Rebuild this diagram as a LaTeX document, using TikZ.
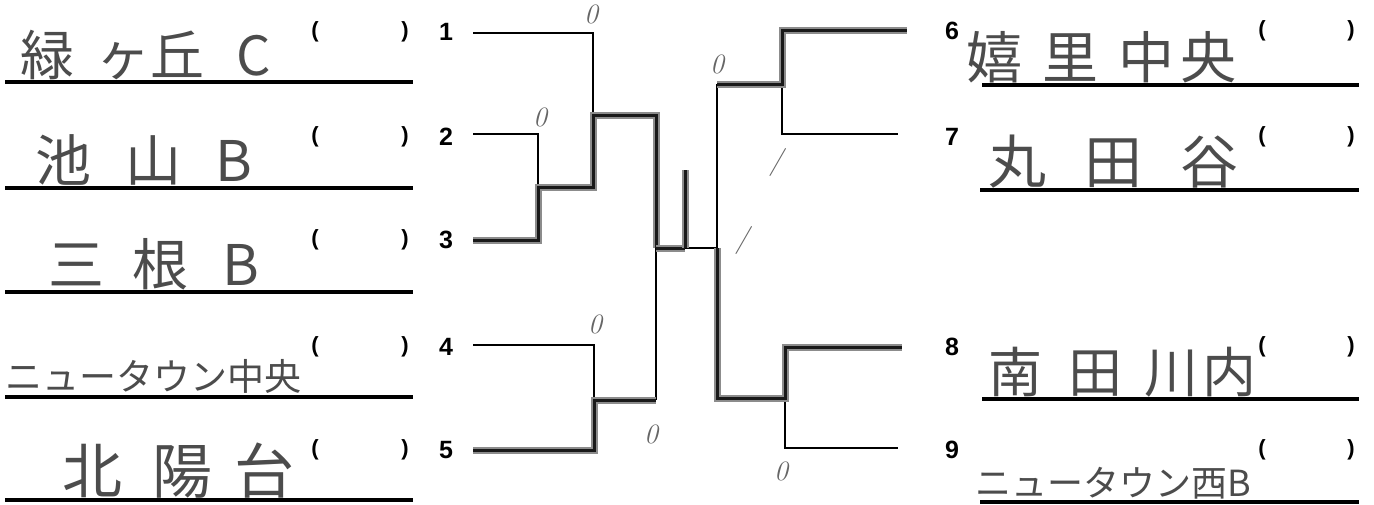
\documentclass[tikz,border=0pt]{standalone}
\usepackage{fontspec}
\setsansfont{Liberation Sans}
\newfontfamily\cjk{Noto Sans CJK JP}
\begin{document}
\begin{tikzpicture}[x=1pt,y=-1pt,
  bl/.style={line width=1.8pt,black},
  win/.style={line width=3pt,black!90,line join=miter,preaction={draw,line width=7pt,black!45}},
  uline/.style={line width=4pt,black},
  num/.style={font=\sffamily\bfseries\fontsize{25}{25}\selectfont,inner sep=0},
  par/.style={font=\sffamily\bfseries\fontsize{22}{22}\selectfont,inner sep=0},
  nm/.style={text=black!70,anchor=base west,inner sep=0},
  sc/.style={font=\itshape\fontsize{28}{28}\selectfont,text=black!60,inner sep=0}]
\useasboundingbox (0,0) rectangle (1374,504);
% ---------- left names ----------
\draw[uline] (5,82) -- (413,82);
\draw[uline] (5,188) -- (413,188);
\draw[uline] (5,292) -- (413,292);
\draw[uline] (5,397) -- (413,397);
\draw[uline] (5,500) -- (413,500);
\node[nm,font=\cjk\fontsize{54}{54}\selectfont] (n1) at (20,75) {緑\hspace{22pt}ヶ丘\hspace{32pt}C};
\node[nm,font=\cjk\fontsize{56}{56}\selectfont] (n2) at (35,181) {池\hspace{34pt}山\hspace{34pt}B};
\node[nm,font=\cjk\fontsize{56}{56}\selectfont] (n3) at (48,285) {三\hspace{28pt}根\hspace{34pt}B};
\node[nm,font=\cjk\fontsize{37}{37}\selectfont] (n4) at (5,390) {ニュータウン中央};
\node[nm,font=\cjk\fontsize{60}{60}\selectfont] (n5) at (62,493) {北\hspace{30pt}陽\hspace{22pt}台};
\foreach \i/\y in {1/32,2/137,3/240,4/347,5/450}{
  \node[par] (po\i) at (315,\y) {(};
  \node[par] (pc\i) at (405,\y) {)};
  \node[num] (k\i) at (446,\y) {\i};
}
% ---------- right names ----------
\draw[uline] (982,85) -- (1359,85);
\draw[uline] (980,190) -- (1359,190);
\draw[uline] (982,399) -- (1359,399);
\draw[uline] (980,502) -- (1359,502);
\node[nm,font=\cjk\fontsize{56}{56}\selectfont] (n6) at (966,78) {嬉\hspace{20pt}里\hspace{20pt}中\hspace{6pt}央};
\node[nm,font=\cjk\fontsize{58}{58}\selectfont] (n7) at (988,183) {丸\hspace{38pt}田\hspace{38pt}谷};
\node[nm,font=\cjk\fontsize{54}{54}\selectfont] (n8) at (988,392) {南\hspace{26pt}田\hspace{22pt}川\hspace{4pt}内};
\node[nm,font=\cjk\fontsize{36}{36}\selectfont] (n9) at (975,496) {ニュータウン西B};
\foreach \i/\y in {6/31,7/137,8/347,9/450}{
  \node[par] (po\i) at (1262,\y) {(};
  \node[par] (pc\i) at (1351,\y) {)};
  \node[num] (k\i) at (952,\y) {\i};
}
% ---------- bracket coordinates ----------
\coordinate (L1) at (473,33);  \coordinate (L1e) at (593,33);
\coordinate (L2) at (473,134); \coordinate (L2e) at (538,134);
\coordinate (L3) at (473,240); \coordinate (L3e) at (538,240);
\coordinate (M23) at (538,187); \coordinate (M23e) at (593,187);
\coordinate (M123) at (593,115); \coordinate (M123e) at (656,115);
\coordinate (L4) at (473,345); \coordinate (L4e) at (594,345);
\coordinate (L5) at (473,450); \coordinate (L5e) at (594,450);
\coordinate (M45) at (594,400); \coordinate (M45e) at (656,400);
\coordinate (C) at (656,248); \coordinate (Ce) at (685,248);
\coordinate (Ctop) at (685,170);
\coordinate (Rc) at (717,248);
\coordinate (R6) at (907,30);  \coordinate (R6s) at (782,30);
\coordinate (R7) at (898,134); \coordinate (R7s) at (782,134);
\coordinate (M67) at (782,84); \coordinate (M67s) at (717,84);
\coordinate (R8) at (902,347); \coordinate (R8s) at (785,347);
\coordinate (R9) at (898,448); \coordinate (R9s) at (785,448);
\coordinate (M89) at (785,398); \coordinate (M89s) at (717,398);
% ---------- thin lines ----------
\draw[bl] (L1) -- (L1e) -- (M23e);
\draw[bl] (L2) -- (L2e) -- (M23);
\draw[bl] (L4) -- (L4e) -- (M45);
\draw[bl] (M123e) -- (M45e);
\draw[bl] (Ce) -- (Rc);
\draw[bl] (M67s) -- (M89s);
\draw[bl] (M67) -- (R7s) -- (R7);
\draw[bl] (M89) -- (R9s) -- (R9);
% ---------- winner lines ----------
\draw[win] (L3) -- (L3e) -- (M23) -- (M23e) -- (M123) -- (M123e) -- (C);
\draw[win] (L5) -- (L5e) -- (M45) -- (M45e);
\draw[win] (C) -- (Ce);
\draw[win] (Ce) -- (Ctop);
\draw[win] (M67s) -- (M67) -- (R6s) -- (R6);
\draw[win] (Rc) -- (M89s) -- (M89) -- (R8s) -- (R8);
% ---------- scores ----------
\node[sc] (s1) at (591,14) {0};
\node[sc] (s2) at (540,117) {0};
\node[sc] (s3) at (595,324) {0};
\node[sc] (s4) at (651,434) {0};
\node[sc] (s5) at (717,64) {0};
\node[sc] (s6) at (776,162) {/};
\node[sc] (s7) at (742,240) {/};
\node[sc] (s8) at (781,471) {0};
\end{tikzpicture}
\end{document}
